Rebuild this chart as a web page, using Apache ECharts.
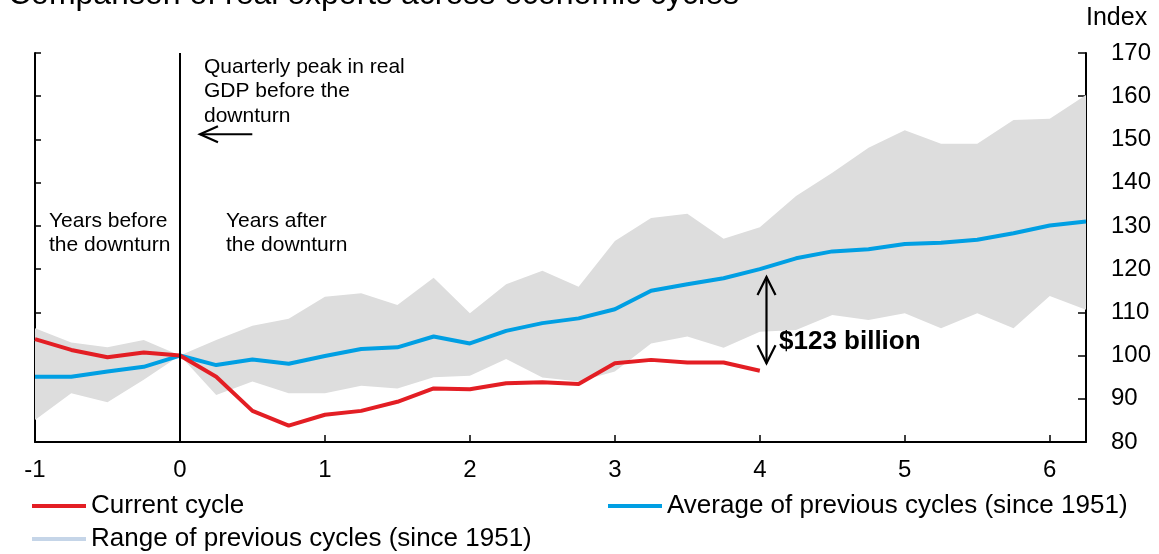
<!DOCTYPE html>
<html>
<head>
<meta charset="utf-8">
<title>Real exports across economic cycles</title>
<script src="https://cdn.jsdelivr.net/npm/echarts@6/dist/echarts.min.js"></script>
<style>
  html, body { margin: 0; padding: 0; background: #fff; }
  #chart { width: 1159px; height: 554px; }
</style>
</head>
<body>
<div id="chart"></div>
<script>
// years relative to the quarterly GDP peak (quarters)
const quarters = [-1, -0.75, -0.5, -0.25, 0, 0.25, 0.5, 0.75, 1, 1.25, 1.5, 1.75, 2, 2.25, 2.5,
  2.75, 3, 3.25, 3.5, 3.75, 4, 4.25, 4.5, 4.75, 5, 5.25, 5.5, 5.75, 6, 6.25];

const currentCycle = [103.8, 101.3, 99.6, 100.7, 100, 95.1, 87.2, 83.8, 86.3, 87.2, 89.3, 92.4,
  92.2, 93.6, 93.8, 93.4, 98.2, 99.0, 98.4, 98.4, 96.5];

const averagePrevious = [95.1, 95.1, 96.3, 97.4, 100, 97.8, 99.1, 98.1, 99.9, 101.5, 101.9, 104.4,
  102.8, 105.7, 107.5, 108.6, 110.7, 115.0, 116.5, 117.9, 120.0, 122.5, 124.1, 124.6, 125.8,
  126.1, 126.8, 128.3, 130.1, 131.0];

const rangeHigh = [106.3, 103.0, 101.9, 103.6, 100, 103.6, 106.9, 108.5, 113.6, 114.4, 111.7, 118.0,
  109.8, 116.5, 119.6, 115.9, 126.5, 131.8, 132.8, 127.0, 129.7, 136.9, 142.3, 148.1, 152.1,
  149.0, 149.0, 154.5, 154.8, 160.3];

const rangeLow = [85.1, 91.3, 89.2, 94.4, 100, 90.9, 94.0, 91.3, 91.3, 93.0, 92.4, 95.0, 95.3,
  99.2, 94.9, 94.0, 96.3, 102.8, 104.4, 101.8, 105.5, 105.9, 109.4, 108.2, 109.8, 106.3, 109.8,
  106.3, 113.8, 110.6];

const yTicks = [80, 90, 100, 110, 120, 130, 140, 150, 160, 170];

const FONT = 'Liberation Sans, Arial, sans-serif';
const RED = '#e31e24';
const BLUE = '#009fe3';
const GREY = '#dddddd';

function pairs(values) {
  return values.map((v, i) => [quarters[i], v]);
}

let myChart = echarts.init(document.getElementById('chart'));

let legendText = { fontSize: 26, color: '#000', fontFamily: FONT };

// grey band: one polygon, upper edge left->right then lower edge right->left
function renderRange(params, api) {
  if (params.dataIndex !== 0) return null;
  let pts = [];
  for (let i = 0; i < quarters.length; i++) pts.push(api.coord([quarters[i], rangeHigh[i]]));
  for (let i = quarters.length - 1; i >= 0; i--) pts.push(api.coord([quarters[i], rangeLow[i]]));
  return {
    type: 'polygon',
    shape: { points: pts },
    style: { fill: GREY, stroke: null }
  };
}

let option = {
  animation: false,
  grid: { left: 35, right: 73, top: 53, bottom: 112 },
  legend: [
    {
      data: [{ name: 'Current cycle', itemStyle: { color: RED } }],
      left: 32, top: 493, icon: 'rect', itemWidth: 54, itemHeight: 4,
      selectedMode: false, textStyle: legendText, padding: 0
    },
    {
      data: [{ name: 'Average of previous cycles (since 1951)', itemStyle: { color: BLUE } }],
      left: 608, top: 493, icon: 'rect', itemWidth: 54, itemHeight: 4,
      selectedMode: false, textStyle: legendText, padding: 0
    },
    {
      data: [{ name: 'Range of previous cycles (since 1951)', itemStyle: { color: '#c5d5e8' } }],
      left: 32, top: 526, icon: 'rect', itemWidth: 54, itemHeight: 4,
      selectedMode: false, textStyle: legendText, padding: 0
    }
  ],
  xAxis: {
    type: 'value',
    min: -1,
    max: 6.25,
    interval: 1,
    splitLine: { show: false },
    axisLine: { onZero: false, lineStyle: { color: '#000', width: 2 } },
    axisTick: { inside: true, length: 7, lineStyle: { color: '#000', width: 1.5 } },
    axisLabel: {
      showMaxLabel: false,
      fontSize: 24, color: '#000', fontFamily: FONT, margin: 16
    }
  },
  yAxis: [
    {
      type: 'value', position: 'left', min: 80, max: 170, interval: 10,
      splitLine: { show: false },
      axisLine: { show: true, onZero: false, lineStyle: { color: '#000', width: 2 } },
      axisTick: { show: true, inside: true, length: 6, lineStyle: { color: '#000', width: 1.5 } },
      axisLabel: { show: false }
    },
    {
      type: 'value', position: 'right', min: 80, max: 170, interval: 10,
      splitLine: { show: false },
      axisLine: { show: true, onZero: false, lineStyle: { color: '#000', width: 2 } },
      axisTick: { show: true, inside: true, length: 8, lineStyle: { color: '#000', width: 1.5 } },
      axisLabel: {
        fontSize: 24, color: '#000', fontFamily: FONT, margin: 25,
        formatter: v => (yTicks.indexOf(v) > -1 ? String(v) : '')
      }
    }
  ],
  series: [
    {
      name: 'Range of previous cycles (since 1951)',
      type: 'custom',
      renderItem: renderRange,
      data: pairs(rangeHigh),
      itemStyle: { color: GREY },
      silent: true,
      z: 1
    },
    {
      name: 'Average of previous cycles (since 1951)',
      type: 'line',
      data: pairs(averagePrevious),
      symbol: 'none',
      itemStyle: { color: BLUE },
      lineStyle: { color: BLUE, width: 4 },
      z: 3
    },
    {
      name: 'Current cycle',
      type: 'line',
      data: pairs(currentCycle),
      symbol: 'none',
      itemStyle: { color: RED },
      lineStyle: { color: RED, width: 4 },
      z: 4,
      markLine: {
        silent: true,
        symbol: 'none',
        label: { show: false },
        lineStyle: { color: '#000', width: 2, type: 'solid' },
        data: [{ xAxis: 0 }]
      }
    }
  ]
};
myChart.setOption(option);

// annotations, anchored in data coordinates
function px(x, y) {
  return myChart.convertToPixel({ xAxisIndex: 0, yAxisIndex: 0 }, [x, y]);
}
let tip = px(0.138, 151.2), tail = px(0.499, 151.2);
let gapTop = px(4.046, 118.2), gapBottom = px(4.046, 98.2);
let arrowStyle = { stroke: '#000', lineWidth: 2.2, fill: null };

function textEl(x, y, text, size, weight) {
  return {
    type: 'text', x: x, y: y, silent: true, z: 100,
    style: {
      text: text, fill: '#000', fontSize: size, fontFamily: FONT,
      fontWeight: weight || 'normal', lineHeight: 24.5, verticalAlign: 'middle', align: 'left'
    }
  };
}

function lineEl(points) {
  return { type: 'polyline', silent: true, z: 100, shape: { points: points }, style: arrowStyle };
}

myChart.setOption({
  graphic: [
    textEl(8, -5, 'Comparison of real exports across economic cycles', 32),
    textEl(1086, 18, 'Index', 25),
    textEl(204, 91.5, 'Quarterly peak in real\nGDP before the\ndownturn', 21),
    textEl(49, 233, 'Years before\nthe downturn', 21),
    textEl(226, 233, 'Years after\nthe downturn', 21),
    textEl(779, 342, '$123 billion', 26, 'bold'),
    lineEl([tip, tail]),
    lineEl([[tip[0] + 18, tip[1] - 8], tip, [tip[0] + 18, tip[1] + 8]]),
    lineEl([gapTop, gapBottom]),
    lineEl([[gapTop[0] - 9, gapTop[1] + 18], gapTop, [gapTop[0] + 9, gapTop[1] + 18]]),
    lineEl([[gapBottom[0] - 9, gapBottom[1] - 18], gapBottom, [gapBottom[0] + 9, gapBottom[1] - 18]])
  ]
});

window.addEventListener('resize', function () {
  myChart.resize();
});
</script>
</body>
</html>
